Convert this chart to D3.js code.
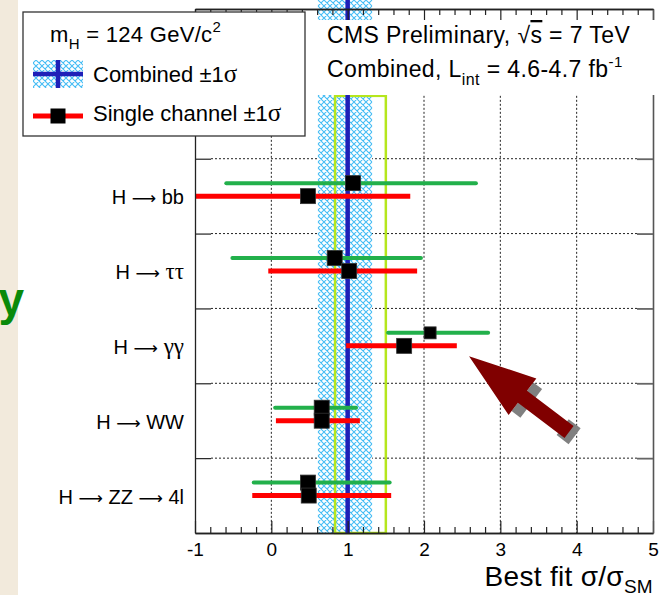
<!DOCTYPE html>
<html><head><meta charset="utf-8">
<script src="https://cdn.jsdelivr.net/npm/d3@7"></script>
<style>body{margin:0;background:#fff} svg{display:block}</style>
</head><body><svg id="c" width="668" height="595"></svg>
<script>
// ---------- data ----------
const categories = ["bb", "ττ", "γγ", "WW", "ZZ"]; // top to bottom
const singleBest = [0.48, 1.02, 1.74, 0.66, 0.49];
const singleLow  = [-1.0, -0.04, 0.98, 0.06, -0.25];
const singleHigh = [1.82, 1.91, 2.43, 1.16, 1.57];
const otherBest  = [1.07, 0.83, 2.08, 0.66, 0.48];
const otherLow   = [-0.59, -0.51, 1.53, 0.05, -0.23];
const otherHigh  = [2.68, 1.96, 2.84, 1.11, 1.55];
const combinedBest = 1.0;
const combinedBand = [0.61, 1.32];
const highlightBox = [0.835, 1.50];
const highlightTop = 5.84;
const xTicks = [-1, 0, 1, 2, 3, 4, 5];
const arrowTip = [2.59, 2.36];
const arrowTail = [3.90, 1.35];

// ---------- setup ----------
const svg = d3.select("#c");
const W = 668, H = 595;
const L = 195, R = 653, T = 9, B = 533;
const x = d3.scaleLinear().domain([-1, 5]).range([L, R]);
const y = d3.scaleLinear().domain([0, 7]).range([B, T]);
const rowY = i => y(categories.length - 0.5 - i);
const SANS = "'Liberation Sans', Arial, sans-serif";
const SERIF = "'Liberation Serif', 'Times New Roman', serif";
const ARW = "'DejaVu Sans', sans-serif";

svg.append("rect").attr("width", W).attr("height", H).attr("fill", "#fff");
svg.append("rect").attr("x", 0).attr("y", 0).attr("width", 18).attr("height", H).attr("fill", "#f2eadc");

const defs = svg.append("defs");
const pat = defs.append("pattern").attr("id", "hatch").attr("patternUnits", "userSpaceOnUse")
  .attr("width", 6).attr("height", 6);
pat.append("rect").attr("width", 6).attr("height", 6).attr("fill", "#fff");
pat.append("path").attr("d", "M0,0L6,6M6,0L0,6M-1,5L1,7M5,-1L7,1").attr("stroke", "#45bdf5").attr("stroke-width", 1.1);

// grid
const g = svg.append("g");
g.selectAll(".vg").data([0, 2, 3, 4]).join("line")
  .attr("x1", d => x(d)).attr("x2", d => x(d)).attr("y1", y(highlightTop)).attr("y2", B)
  .attr("stroke", "#222").attr("stroke-width", 1).attr("stroke-dasharray", "2,2");
g.selectAll(".hg").data([1, 2, 3, 4, 5]).join("line")
  .attr("x1", L + 16).attr("x2", R - 16).attr("y1", d => y(d)).attr("y2", d => y(d))
  .attr("stroke", "#222").attr("stroke-width", 1).attr("stroke-dasharray", "2,2");

// combined band
svg.append("rect").attr("x", x(combinedBand[0])).attr("width", x(combinedBand[1]) - x(combinedBand[0]))
  .attr("y", 0).attr("height", B).attr("fill", "url(#hatch)");
// highlight box
svg.append("rect").attr("x", x(highlightBox[0])).attr("width", x(highlightBox[1]) - x(highlightBox[0]))
  .attr("y", y(highlightTop)).attr("height", B - y(highlightTop))
  .attr("fill", "none").attr("stroke", "#b5e61d").attr("stroke-width", 2.5);
// combined line
svg.append("line").attr("x1", x(combinedBest)).attr("x2", x(combinedBest)).attr("y1", 0).attr("y2", B)
  .attr("stroke", "#1f1fb8").attr("stroke-width", 4.5);

// error bars
const bars = svg.append("g");
bars.selectAll(".gl").data(categories).join("line")
  .attr("x1", (d, i) => x(otherLow[i])).attr("x2", (d, i) => x(otherHigh[i]))
  .attr("y1", (d, i) => rowY(i) - 13).attr("y2", (d, i) => rowY(i) - 13)
  .attr("stroke", "#22b04b").attr("stroke-width", 4).attr("stroke-linecap", "round");
bars.selectAll(".rl").data(categories).join("line")
  .attr("x1", (d, i) => x(singleLow[i])).attr("x2", (d, i) => x(singleHigh[i]))
  .attr("y1", (d, i) => rowY(i)).attr("y2", (d, i) => rowY(i))
  .attr("stroke", "#ff0000").attr("stroke-width", 5);
const gs = i => (i === 2 ? 12 : 15);
bars.selectAll(".gm").data(categories).join("rect")
  .attr("x", (d, i) => x(otherBest[i]) - gs(i) / 2).attr("y", (d, i) => rowY(i) - 13 - gs(i) / 2)
  .attr("width", (d, i) => gs(i)).attr("height", (d, i) => gs(i))
  .attr("fill", "#000").attr("stroke", "#333").attr("stroke-width", 0.8);
bars.selectAll(".rm").data(categories).join("rect")
  .attr("x", (d, i) => x(singleBest[i]) - 7.5).attr("y", (d, i) => rowY(i) - 7.5)
  .attr("width", 15).attr("height", 15)
  .attr("fill", "#000").attr("stroke", "#333").attr("stroke-width", 0.8);

// axes
const minor = d3.range(-1, 5.001, 0.2).filter(v => Math.abs(v - Math.round(v)) > 0.01);
function styleAxis(sel) { sel.select(".domain").attr("stroke", "#222").attr("stroke-width", 1.3); sel.selectAll(".tick line").attr("stroke", "#222").attr("stroke-width", 1.2); }
const ab = svg.append("g").attr("transform", `translate(0,${B})`)
  .call(d3.axisBottom(x).tickValues(xTicks).tickSizeInner(-12).tickSizeOuter(0).tickPadding(10).tickFormat(d => String(d)));
styleAxis(ab);
ab.selectAll("text").attr("font-family", SANS).attr("font-size", 19).attr("fill", "#000");
const abm = svg.append("g").attr("transform", `translate(0,${B})`)
  .call(d3.axisBottom(x).tickValues(minor).tickSizeInner(-6).tickSizeOuter(0).tickFormat(""));
styleAxis(abm);
const at = svg.append("g").attr("transform", `translate(0,${T})`)
  .call(d3.axisTop(x).tickValues(xTicks).tickSizeInner(-12).tickSizeOuter(0).tickFormat(""));
styleAxis(at);
const atm = svg.append("g").attr("transform", `translate(0,${T})`)
  .call(d3.axisTop(x).tickValues(minor).tickSizeInner(-6).tickSizeOuter(0).tickFormat(""));
styleAxis(atm);
const al = svg.append("g").attr("transform", `translate(${L},0)`)
  .call(d3.axisLeft(y).tickValues([1, 2, 3, 4, 5]).tickSizeInner(-16).tickSizeOuter(0).tickFormat(""));
styleAxis(al);
const ar = svg.append("g").attr("transform", `translate(${R},0)`)
  .call(d3.axisRight(y).tickValues([1, 2, 3, 4, 5]).tickSizeInner(-16).tickSizeOuter(0).tickFormat(""));
styleAxis(ar);
ar.select(".domain").attr("stroke", "#555").attr("stroke-width", 1.6);
ar.selectAll(".tick line").attr("stroke", "#666").attr("stroke-width", 1.8);

// arrow annotation
(function () {
  const p0 = [x(arrowTip[0]), y(arrowTip[1])], p1 = [x(arrowTail[0]), y(arrowTail[1])];
  const len = Math.hypot(p1[0] - p0[0], p1[1] - p0[1]);
  const ang = Math.atan2(p1[1] - p0[1], p1[0] - p0[0]) * 180 / Math.PI;
  const a = svg.append("g").attr("transform", `translate(${p0[0]},${p0[1]}) rotate(${ang})`);
  a.append("rect").attr("x", 67).attr("y", -18).attr("width", 11).attr("height", 36).attr("fill", "#808080");
  a.append("rect").attr("x", len - 8).attr("y", -10).attr("width", 15).attr("height", 20).attr("fill", "#808080");
  a.append("path").attr("d", `M0,0L67,-23L67,-7.5L${len},-7.5L${len},7.5L67,7.5L67,23Z`).attr("fill", "#800000");
})();

// category labels
const labelParts = [
  [["H ", SANS], ["⟶", ARW], [" bb", SANS]],
  [["H ", SANS], ["⟶", ARW], [" ττ", SERIF]],
  [["H ", SANS], ["⟶", ARW], [" γγ", SERIF]],
  [["H ", SANS], ["⟶", ARW], [" WW", SANS]],
  [["H ", SANS], ["⟶", ARW], [" ZZ ", SANS], ["⟶", ARW], [" 4l", SANS]]
];
const fsFor = f => (f === SERIF ? 23 : f === ARW ? 17 : 20);
labelParts.forEach((parts, i) => {
  const t = svg.append("text").attr("x", 184).attr("y", rowY(i) + 8).attr("text-anchor", "end")
    .attr("font-size", 20).attr("fill", "#000");
  parts.forEach(p => t.append("tspan").attr("font-family", p[1]).attr("font-size", fsFor(p[1])).text(p[0]));
});

// left decorative letter
svg.append("text").attr("x", 24).attr("y", 315).attr("text-anchor", "end")
  .attr("font-family", SANS).attr("font-weight", "bold").attr("font-size", 46).attr("fill", "#0a8a0a").text("y");

// text box (upper right)
svg.append("rect").attr("x", 308).attr("y", 20).attr("width", 350).attr("height", 75).attr("fill", "#fff");
const t1 = svg.append("text").attr("x", 327).attr("y", 43).attr("font-family", SANS).attr("font-size", 23)
  .attr("letter-spacing", 0.4).attr("fill", "#000");
t1.append("tspan").text("CMS Preliminary, √");
t1.append("tspan").attr("text-decoration", "overline").text("s");
t1.append("tspan").text(" = 7 TeV");
const t2 = svg.append("text").attr("x", 327).attr("y", 77).attr("font-family", SANS).attr("font-size", 23)
  .attr("letter-spacing", 0.4).attr("fill", "#000");
t2.append("tspan").text("Combined, L");
t2.append("tspan").attr("font-size", 16).attr("dy", 8).text("int");
t2.append("tspan").attr("dy", -8).text(" = 4.6-4.7 fb");
t2.append("tspan").attr("font-size", 15).attr("dy", -10).text("-1");

// legend
svg.append("rect").attr("x", 23).attr("y", 12).attr("width", 282).attr("height", 124)
  .attr("fill", "#fff").attr("stroke", "#333").attr("stroke-width", 1.3);
const lt = svg.append("text").attr("x", 50).attr("y", 42).attr("font-family", SANS).attr("font-size", 22)
  .attr("letter-spacing", 0.3).attr("fill", "#000");
lt.append("tspan").text("m");
lt.append("tspan").attr("font-size", 15).attr("dy", 7).text("H");
lt.append("tspan").attr("dy", -7).text(" = 124 GeV/c");
lt.append("tspan").attr("font-size", 15).attr("dy", -10).text("2");
svg.append("rect").attr("x", 33).attr("y", 60).attr("width", 50).attr("height", 28).attr("fill", "url(#hatch)");
svg.append("line").attr("x1", 33).attr("x2", 83).attr("y1", 74).attr("y2", 74).attr("stroke", "#1f1fb8").attr("stroke-width", 4.5);
svg.append("line").attr("x1", 58).attr("x2", 58).attr("y1", 60).attr("y2", 88).attr("stroke", "#1f1fb8").attr("stroke-width", 4.5);
svg.append("line").attr("x1", 33).attr("x2", 83).attr("y1", 116).attr("y2", 116).attr("stroke", "#ff0000").attr("stroke-width", 5);
svg.append("rect").attr("x", 50.5).attr("y", 108.5).attr("width", 15).attr("height", 15).attr("fill", "#000");
const legendItems = ["Combined", "Single channel"];
legendItems.forEach((s, i) => {
  const t = svg.append("text").attr("x", 93).attr("y", 82 + i * 39).attr("font-family", SANS).attr("font-size", 22).attr("fill", "#000");
  t.append("tspan").text(s + " ±1");
  t.append("tspan").attr("font-family", SERIF).attr("font-size", 25).text("σ");
});

// axis title
const xt = svg.append("text").attr("x", R).attr("y", 586).attr("text-anchor", "end")
  .attr("font-family", SANS).attr("font-size", 28).attr("letter-spacing", 0.3).attr("fill", "#000");
xt.append("tspan").text("Best fit σ/σ");
xt.append("tspan").attr("font-size", 19).attr("dy", 7).text("SM");
</script></body></html>
